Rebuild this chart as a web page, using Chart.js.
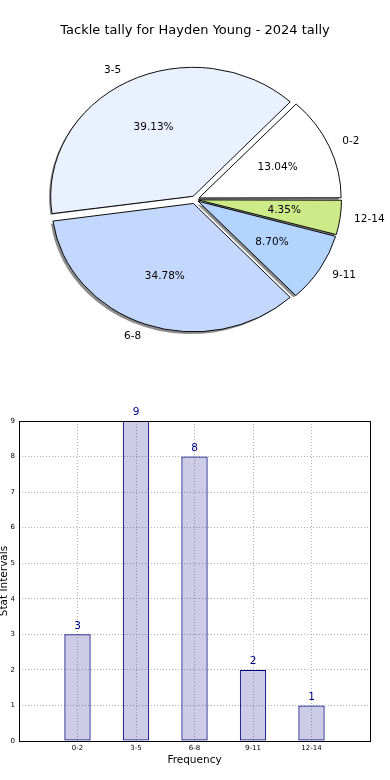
<!DOCTYPE html>
<html>
<head>
<meta charset="utf-8">
<title>Tackle tally for Hayden Young - 2024 tally</title>
<script src="https://cdn.jsdelivr.net/npm/chart.js@4/dist/chart.umd.min.js"></script>
<style>
  html, body { margin: 0; padding: 0; background: #fff; }
  .wrap { position: relative; width: 390px; height: 780px; overflow: hidden; }
  canvas { position: absolute; left: 0; }
  #pie { top: 0; }
  #bar { top: 390px; }
</style>
</head>
<body>
<div class="wrap">
  <canvas id="pie" width="390" height="390"></canvas>
  <canvas id="bar" width="390" height="390"></canvas>
</div>
<script>
'use strict';

// ── Data ──────────────────────────────────────────────────────
const categories = ['0-2', '3-5', '6-8', '9-11', '12-14'];
const tallies    = [3, 9, 8, 2, 1];
const sliceColors = ['#ffffff', '#eaf1fe', '#c4d8fe', '#b3d4fe', '#cdea88'];
const yTicks     = [0, 1, 2, 3, 4, 5, 6, 7, 8, 9];

const FONT = '"DejaVu Sans", sans-serif';
const NAVY = '#000080';
const total = tallies.reduce((a, b) => a + b, 0);

// ── Pie (matplotlib style: counter-clockwise from 3 o'clock, exploded, elliptical) ──
const EXPLODE = 5.5;   // px shift of every slice
const RADIUS  = 141;   // horizontal radius
const SQUASH  = 0.905; // vertical / horizontal

// chart.js draws clockwise, so feed slices reversed to get the ccw order
const pieLabels = categories.slice().reverse();
const pieValues = tallies.slice().reverse();
const pieColors = sliceColors.slice().reverse();

const ellipsePlugin = {
  id: 'ellipse',
  beforeDatasetsDraw(chart) {
    const arcs = chart.getDatasetMeta(0).data;
    const c = chart.ctx;
    c.save();
    c.translate(arcs[0].x, arcs[0].y);
    c.scale(1, SQUASH);
    c.translate(-arcs[0].x, -arcs[0].y);

    // drop shadow under every slice, like matplotlib's shadow=True
    c.save();
    c.translate(-2.5, 2.5);
    c.fillStyle = 'rgba(0,0,0,0.45)';
    arcs.forEach(arc => {
      const a = (arc.startAngle + arc.endAngle) / 2;
      const x = arc.x + EXPLODE * Math.cos(a);
      const y = arc.y + EXPLODE * Math.sin(a);
      c.beginPath();
      c.moveTo(x, y);
      c.arc(x, y, arc.outerRadius, arc.startAngle, arc.endAngle);
      c.closePath();
      c.fill();
    });
    c.restore();
  },
  afterDatasetsDraw(chart) {
    chart.ctx.restore();
  },
  afterDraw(chart) {
    const c = chart.ctx;
    c.save();
    c.font = '10.5px ' + FONT;
    c.fillStyle = '#000';
    c.textBaseline = 'middle';
    chart.getDatasetMeta(0).data.forEach((arc, i) => {
      const a = (arc.startAngle + arc.endAngle) / 2;
      const pos = k => ({
        x: arc.x + (EXPLODE + k * arc.outerRadius) * Math.cos(a),
        y: arc.y + SQUASH * (EXPLODE + k * arc.outerRadius) * Math.sin(a)
      });
      const lp = pos(1.1);
      c.textAlign = Math.cos(a) > 0 ? 'left' : 'right';
      c.fillText(pieLabels[i], lp.x, lp.y);
      const pp = pos(0.6);
      c.textAlign = 'center';
      c.fillText((pieValues[i] / total * 100).toFixed(2) + '%', pp.x, pp.y);
    });
    c.restore();
  }
};

new Chart(document.getElementById('pie'), {
  type: 'pie',
  data: {
    labels: pieLabels,
    datasets: [{
      data: pieValues,
      backgroundColor: pieColors,
      borderColor: '#000',
      borderWidth: 1,
      radius: RADIUS,
      hoverOffset: 0,
      // arc.draw shifts by offset/4 * (1 + fix); undo that so every slice moves EXPLODE px
      offset: ctx => {
        const circ = 2 * Math.PI * ctx.raw / total;
        const fix = 1 - Math.sin(Math.min(Math.PI, circ));
        return EXPLODE * 4 / (1 + fix);
      }
    }]
  },
  options: {
    responsive: false,
    animation: false,
    rotation: 90,
    layout: { padding: { top: 0, bottom: 29.6 } },
    plugins: {
      legend: { display: false },
      tooltip: { enabled: false },
      title: {
        display: true,
        text: 'Tackle tally for Hayden Young - 2024 tally',
        color: '#000',
        font: { family: FONT, size: 13, weight: 'normal' },
        padding: { top: 23, bottom: 0 }
      }
    }
  },
  plugins: [ellipsePlugin]
});

// ── Bar chart ─────────────────────────────────────────────────
const boxPlugin = {
  id: 'box',
  afterDraw(chart) {
    const { ctx, chartArea: a } = chart;
    ctx.save();
    ctx.strokeStyle = '#000';
    ctx.lineWidth = 1;
    ctx.strokeRect(Math.round(a.left) + 0.5, Math.round(a.top) + 0.5,
      Math.round(a.right - a.left), Math.round(a.bottom - a.top));

    // value labels over the bars
    ctx.font = '10.5px ' + FONT;
    ctx.fillStyle = NAVY;
    ctx.textAlign = 'center';
    ctx.textBaseline = 'bottom';
    chart.getDatasetMeta(0).data.forEach((bar, i) => {
      ctx.fillText(String(tallies[i]), bar.x, bar.y - 3);
    });
    ctx.restore();
  }
};

const gridStyle = { color: '#b0b0b0', lineWidth: 1, drawTicks: false, offset: false };

new Chart(document.getElementById('bar'), {
  type: 'bar',
  data: {
    datasets: [{
      data: tallies.map((v, i) => ({ x: i, y: v })),
      backgroundColor: 'rgba(0,0,128,0.2)',
      borderColor: NAVY,
      borderWidth: 1,
      borderSkipped: false,
      barPercentage: 0.45,
      categoryPercentage: 1
    }]
  },
  options: {
    responsive: false,
    animation: false,
    layout: { padding: { top: 31, right: 20, left: 0, bottom: 0 } },
    plugins: {
      legend: { display: false },
      tooltip: { enabled: false }
    },
    scales: {
      x: {
        type: 'linear',
        offset: false,
        min: -1,
        max: 5,
        afterBuildTicks: s => { s.ticks = categories.map((_, i) => ({ value: i })); },
        afterFit: s => { s.height = 39; },
        grid: gridStyle,
        border: { display: false, dash: [1, 2] },
        ticks: {
          padding: 3,
          color: '#000',
          font: { family: FONT, size: 7 },
          maxRotation: 0,
          callback: v => categories[v] ?? ''
        },
        title: {
          display: true,
          text: 'Frequency',
          color: '#000',
          font: { family: FONT, size: 10.5 },
          padding: { top: 0, bottom: 13.7 }
        }
      },
      y: {
        min: 0,
        max: 9,
        afterBuildTicks: s => { s.ticks = yTicks.map(v => ({ value: v })); },
        afterFit: s => { s.width = 19; },
        grid: gridStyle,
        border: { display: false, dash: [1, 2] },
        ticks: {
          padding: 4,
          color: '#000',
          font: { family: FONT, size: 7 }
        },
        title: {
          display: true,
          text: 'Stat Intervals',
          color: '#000',
          font: { family: FONT, size: 10.5, lineHeight: 0.8 },
          padding: { top: 0, bottom: 0 }
        }
      }
    }
  },
  plugins: [boxPlugin]
});
</script>
</body>
</html>
